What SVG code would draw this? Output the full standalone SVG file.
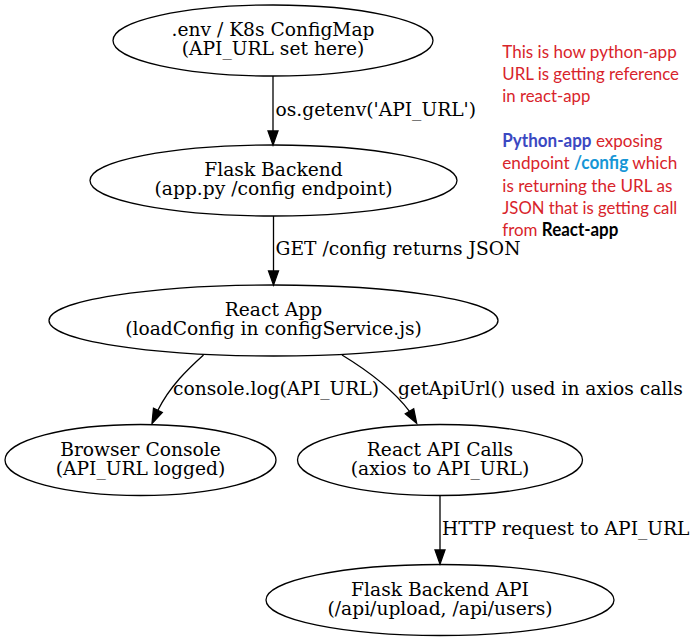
<svg xmlns="http://www.w3.org/2000/svg" width="695" height="641" viewBox="0 0 695 641">
<style>
.node ellipse{fill:none;stroke:#000;stroke-width:1.3}
.node text,.elabel{font-family:"DejaVu Serif","Liberation Serif",serif;font-size:18.67px;fill:#000}
.node text{text-anchor:middle}
.edge path{fill:none;stroke:#000;stroke-width:1.3}
.edge polygon{fill:#000;stroke:#000;stroke-width:1.3}
.note{font-family:Lato,"Open Sans",sans-serif;font-size:18px;fill:#d8242b}
.b{font-weight:bold}
</style>
<rect width="695" height="641" fill="#fff"/>
<g id="n_env" class="node">
<ellipse cx="273" cy="40.5" rx="160" ry="35.5"/>
<text x="273" y="36">.env / K8s ConfigMap</text>
<text x="273" y="55">(API_URL set here)</text>
</g>
<g id="n_flask" class="node">
<ellipse cx="273.5" cy="180.5" rx="183.5" ry="35.5"/>
<text x="273.5" y="176">Flask Backend</text>
<text x="273.5" y="195">(app.py /config endpoint)</text>
</g>
<g id="n_react" class="node">
<ellipse cx="273.5" cy="320.5" rx="224.5" ry="35.5"/>
<text x="273.5" y="316">React App</text>
<text x="273.5" y="335">(loadConfig in configService.js)</text>
</g>
<g id="n_console" class="node">
<ellipse cx="140.5" cy="460" rx="135.5" ry="35.5"/>
<text x="140.5" y="455.5">Browser Console</text>
<text x="140.5" y="474.5">(API_URL logged)</text>
</g>
<g id="n_calls" class="node">
<ellipse cx="440" cy="460" rx="142.5" ry="35.5"/>
<text x="440" y="455.5">React API Calls</text>
<text x="440" y="474.5">(axios to API_URL)</text>
</g>
<g id="n_api" class="node">
<ellipse cx="440" cy="600" rx="174" ry="35.5"/>
<text x="440" y="595.5">Flask Backend API</text>
<text x="440" y="614.5">(/api/upload, /api/users)</text>
</g>
<g id="edges">
<g class="edge">
<path d="M273,76 L273,131"/>
<polygon points="273,145 268,131 278,131"/>
<text class="elabel" x="275.5" y="116">os.getenv('API_URL')</text>
</g>
<g class="edge">
<path d="M273.5,216 L273.5,271"/>
<polygon points="273.5,285 268.5,271 278.5,271"/>
<text class="elabel" x="275.5" y="255">GET /config returns JSON</text>
</g>
<g class="edge">
<path d="M203.5,355 C188,369 170,386 157.9,410.3"/>
<polygon points="152,423.5 162.3,412.4 153.5,408.2"/>
<text class="elabel" x="173" y="395">console.log(API_URL)</text>
</g>
<g class="edge">
<path d="M342,355 C370,372 394,391 409.5,411.3"/>
<polygon points="416.7,423.3 413.7,408.8 405.3,413.8"/>
<text class="elabel" x="398" y="395">getApiUrl() used in axios calls</text>
</g>
<g class="edge">
<path d="M440,495.5 L440,550"/>
<polygon points="440,564 435,550 445,550"/>
<text class="elabel" x="442" y="535">HTTP request to API_URL</text>
</g>
</g>
<g id="note" class="note">
<text x="502.3" y="57.5" textLength="174.4" lengthAdjust="spacingAndGlyphs">This is how python-app</text>
<text x="502.3" y="79.8" textLength="176.7" lengthAdjust="spacingAndGlyphs">URL is getting reference</text>
<text x="502.3" y="101.5" textLength="88" lengthAdjust="spacingAndGlyphs">in react-app</text>
<text x="502.3" y="146.7" textLength="160" lengthAdjust="spacingAndGlyphs"><tspan class="b" fill="#3b48c2">Python-app</tspan> exposing</text>
<text x="502.3" y="169.2" textLength="175" lengthAdjust="spacingAndGlyphs">endpoint <tspan class="b" fill="#1796d6">/config</tspan> which</text>
<text x="502.3" y="191.5" textLength="170" lengthAdjust="spacingAndGlyphs">is returning the URL as</text>
<text x="502.3" y="213.8" textLength="175" lengthAdjust="spacingAndGlyphs">JSON that is getting call</text>
<text x="502.3" y="236" textLength="116" lengthAdjust="spacingAndGlyphs">from <tspan class="b" fill="#000">React-app</tspan></text>
</g>
</svg>
